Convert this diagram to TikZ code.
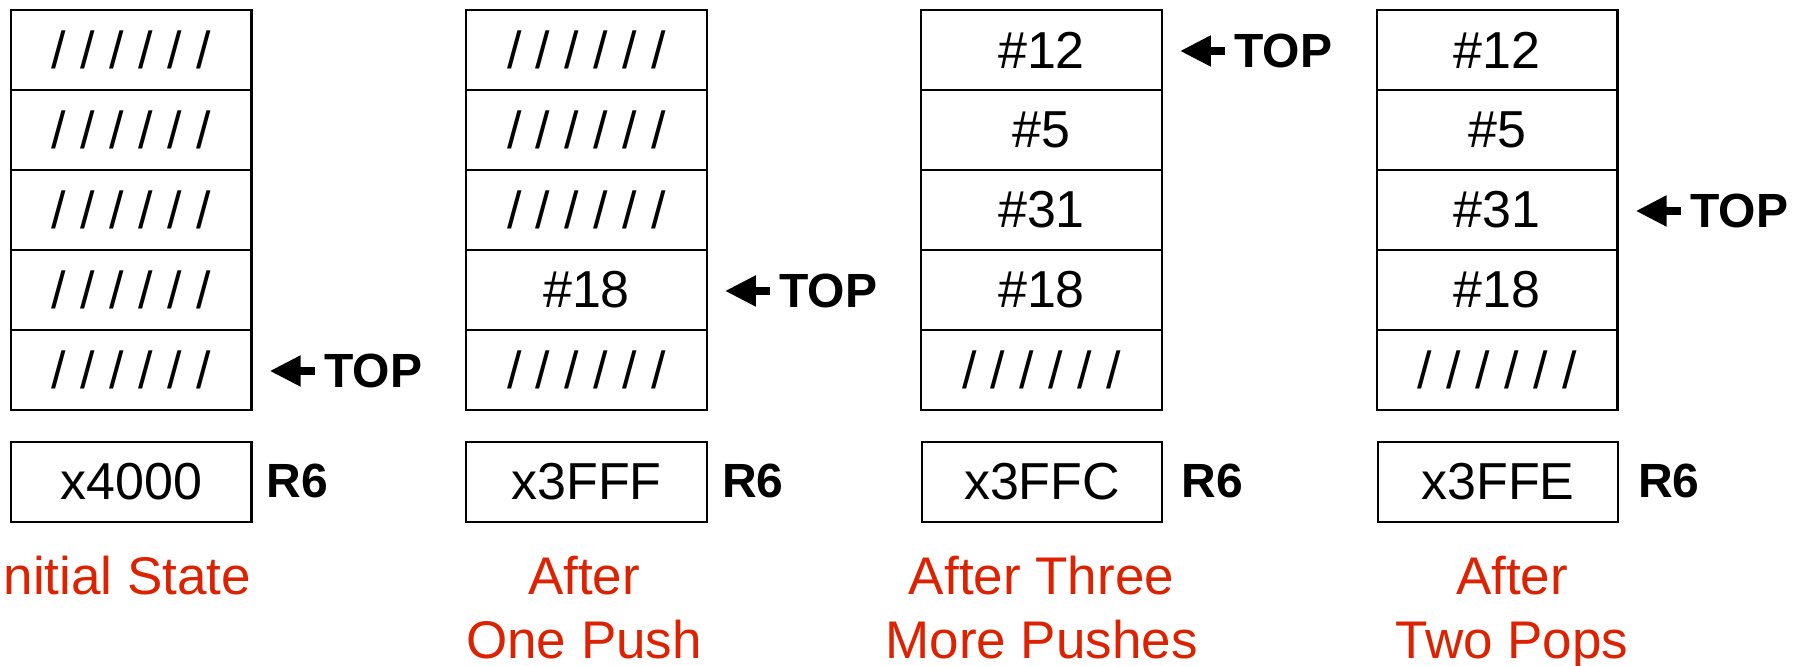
\documentclass[tikz,border=0pt]{standalone}
\usepackage{fontspec}
\setmainfont{Liberation Sans}
\usetikzlibrary{arrows.meta,calc}
\definecolor{capred}{RGB}{220,34,0}
\begin{document}
\begin{tikzpicture}[x=1pt,y=-1pt,
  cell/.style={draw,line width=2.2pt,minimum width=240.5pt,minimum height=80pt,inner sep=0pt,
    font=\fontsize{52}{62}\selectfont},
  rlab/.style={anchor=base west,inner sep=0pt,font=\fontsize{48}{58}\selectfont\bfseries},
  toplab/.style={anchor=base west,inner xsep=9pt,inner ysep=0pt,font=\fontsize{48}{58}\selectfont\bfseries},
  caption/.style={anchor=north,inner sep=0pt,align=center,text=capred,
    font=\fontsize{53}{64}\selectfont},
  ptr/.style={line width=8pt,-{Triangle[length=31pt,width=29pt]},shorten >=17pt}
]
\fill[white] (0,0) rectangle (1807,666);
\useasboundingbox (0,0) rectangle (1807,666);
\def\sl{/ / / / / /}
% stack 1
\node[cell] (a1) at (131.25,50) {\sl};
\node[cell] (a2) at (131.25,130) {\sl};
\node[cell] (a3) at (131.25,210) {\sl};
\node[cell] (a4) at (131.25,290) {\sl};
\node[cell] (a5) at (131.25,370) {\sl};
\node[cell] (ar) at (131.25,482) {x4000};
\node[rlab] (arl) at (266.5,497) {R6};
\node[toplab] (atop) at (315,387.5) {TOP};
\draw[ptr] (atop.west) -- (atop.west -| a5.east);
\node[caption] (acap) at (120,556) {Initial State};
% stack 2
\node[cell] (b1) at (586.5,50) {\sl};
\node[cell] (b2) at (586.5,130) {\sl};
\node[cell] (b3) at (586.5,210) {\sl};
\node[cell] (b4) at (586.5,290) {\#18};
\node[cell] (b5) at (586.5,370) {\sl};
\node[cell] (br) at (586.5,482) {x3FFF};
\node[rlab] (brl) at (722,497) {R6};
\node[toplab] (btop) at (770,307.5) {TOP};
\draw[ptr] (btop.west) -- (btop.west -| b4.east);
\node[caption] (bcap) at (584,556) {After\\One Push};
% stack 3
\node[cell] (c1) at (1041.5,50) {\#12};
\node[cell] (c2) at (1041.5,130) {\#5};
\node[cell] (c3) at (1041.5,210) {\#31};
\node[cell] (c4) at (1041.5,290) {\#18};
\node[cell] (c5) at (1041.5,370) {\sl};
\node[cell] (cr) at (1042,482) {x3FFC};
\node[rlab] (crl) at (1181.5,497) {R6};
\node[toplab] (ctop) at (1225,67.5) {TOP};
\draw[ptr] (ctop.west) -- (ctop.west -| c1.east);
\node[caption] (ccap) at (1041.5,556) {After Three\\More Pushes};
% stack 4
\node[cell] (d1) at (1497.25,50) {\#12};
\node[cell] (d2) at (1497.25,130) {\#5};
\node[cell] (d3) at (1497.25,210) {\#31};
\node[cell] (d4) at (1497.25,290) {\#18};
\node[cell] (d5) at (1497.25,370) {\sl};
\node[cell] (dr) at (1498,482) {x3FFE};
\node[rlab] (drl) at (1638,497) {R6};
\node[toplab] (dtop) at (1681,227.5) {TOP};
\draw[ptr] (dtop.west) -- (dtop.west -| d3.east);
\node[caption] (dcap) at (1512,556) {After\\Two Pops};
\end{tikzpicture}
\end{document}
